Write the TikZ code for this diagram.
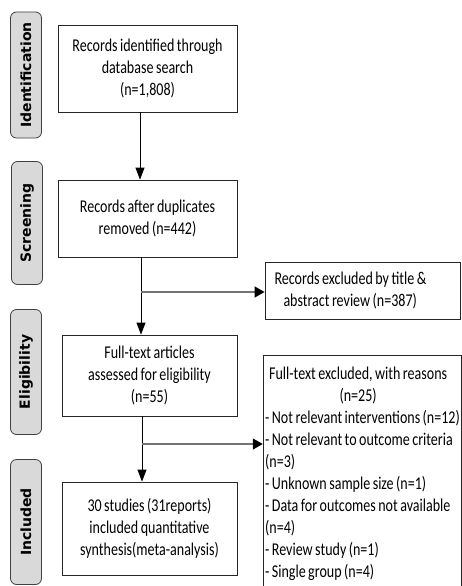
\documentclass[tikz,border=0pt]{standalone}
\usepackage{fontspec}
\setmainfont[FakeStretch=0.78, WordSpace=0.78]{Carlito}
\newfontfamily\stagefont{DejaVu Sans}
\usetikzlibrary{arrows.meta}

\begin{document}
\begin{tikzpicture}[x=1pt, y=-1pt,
	stage/.style={draw=black!75, fill=black!15, rounded corners=6pt, rotate=90, minimum height=31pt, line width=0.8pt, font=\stagefont\bfseries\fontsize{14}{16}\selectfont},
	box/.style={draw=black!85, fill=white, align=center, inner sep=2pt, line width=0.8pt, font=\fontsize{18}{22}\selectfont},
	flow/.style={-{Triangle[length=12pt, width=9pt]}, line width=0.8pt},
	sideflow/.style={-{Triangle[length=10pt, width=11pt, color=black]}, draw=black!55, line width=1.3pt}]
	\useasboundingbox (0,0) rectangle (461,586);

	% 段階のラベル
	\node[stage, minimum width=126pt] (sid) at (26, 75) {Identification};
	\node[stage, minimum width=123pt] (sscr) at (27, 223) {Screening};
	\node[stage, minimum width=125pt] (selig) at (26, 372) {Eligibility};
	\node[stage, minimum width=125pt] (sincl) at (26, 522) {Included};

	% 主な流れのボックス
	\node[box, minimum width=179pt, minimum height=87pt] (ident) at (147.5, 68.5) {Records identified through\\database search\\(n=1,808)};
	\node[box, minimum width=179pt, minimum height=77pt] (dedup) at (147.5, 218.5) {Records after duplicates\\removed (n=442)};
	\node[box, minimum width=175pt, minimum height=81pt] (full) at (149.5, 375.5) {Full-text articles\\assessed for eligibility\\(n=55)};
	\node[box, minimum width=175pt, minimum height=93pt] (incl) at (149.5, 528.5) {30 studies (31reports)\\included quantitative\\synthesis(meta-analysis)};

	% 除外のボックス
	\node[box, minimum width=195pt, minimum height=57pt, align=left] (excta) at (362.5, 290.5) {\makebox[176pt][l]{Records excluded by title \&}\\\hspace*{9pt}abstract review (n=387)};
	\node[box, minimum width=195pt, minimum height=236pt, align=left, anchor=north] (exctb) at (362.5, 355) {\makebox[186pt]{Full-text excluded, with reasons}\\\makebox[186pt]{(n=25)}\\- Not relevant interventions (n=12)\\- Not relevant to outcome criteria\\(n=3)\\- Unknown sample size (n=1)\\- Data for outcomes not available\\(n=4)\\- Review study (n=1)\\- Single group (n=4)};

	% 分岐点
	\coordinate (b1) at (141, 292);
	\coordinate (b2) at (142, 444);

	% 矢印
	\draw[flow] ([xshift=-7.5pt]ident.south) -- ([xshift=-7.5pt]dedup.north);
	\draw[flow] (dedup.south -| b1) -- (full.north -| b1);
	\draw[sideflow] (b1) -- (b1 -| excta.west);
	\draw[flow] (full.south -| b2) -- (incl.north -| b2);
	\draw[sideflow] (b2) -- (b2 -| exctb.west);
\end{tikzpicture}
\end{document}
